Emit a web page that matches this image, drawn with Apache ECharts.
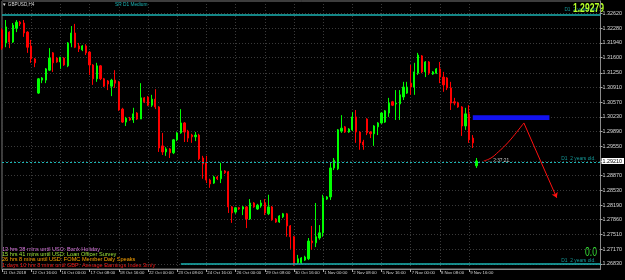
<!DOCTYPE html>
<html><head><meta charset="utf-8">
<script src="https://cdn.jsdelivr.net/npm/echarts@6/dist/echarts.min.js"></script>
<style>html,body{margin:0;padding:0;background:#000}#c{width:625px;height:280px}</style>
</head><body><div id="c"></div>
<script>
// ---- data ----
const symbolTitle = "\u25BC GBPUSD,H4";
const indicatorName = "SR D1 Medium";
const timeLabels = ["11 Oct 2018","12 Oct 16:00","16 Oct 00:00","17 Oct 08:00","18 Oct 16:00","22 Oct 00:00","23 Oct 08:00","24 Oct 16:00","26 Oct 00:00","29 Oct 08:00","30 Oct 16:00","1 Nov 00:00","2 Nov 08:00","5 Nov 16:00","7 Nov 00:00","8 Nov 08:00","9 Nov 16:00"];
const barsPerLabel = 8;
const slotCount = 165;
// [open, close, low, high]
const candles = [
[1.3224,1.3182,1.3178,1.3228],[1.3194,1.3231,1.3184,1.3247],[1.3219,1.3196,1.3182,1.3221],[1.3196,1.3235,1.3194,1.3240],
[1.3228,1.3242,1.3219,1.3247],[1.3242,1.3238,1.3233,1.3245],[1.3240,1.3217,1.3208,1.3247],[1.3219,1.3184,1.3171,1.3221],
[1.3187,1.3157,1.3148,1.3201],[1.3157,1.3148,1.3138,1.3159],[1.3078,1.3111,1.3076,1.3113],[1.3108,1.3113,1.3101,1.3115],
[1.3108,1.3134,1.3101,1.3136],[1.3131,1.3159,1.3129,1.3182],[1.3171,1.3148,1.3127,1.3173],[1.3159,1.3150,1.3148,1.3161],
[1.3150,1.3161,1.3134,1.3161],[1.3159,1.3143,1.3141,1.3161],[1.3141,1.3194,1.3138,1.3196],[1.3194,1.3217,1.3184,1.3233],
[1.3217,1.3184,1.3182,1.3238],[1.3187,1.3180,1.3173,1.3194],[1.3178,1.3187,1.3175,1.3189],[1.3187,1.3171,1.3166,1.3191],
[1.3173,1.3143,1.3120,1.3175],[1.3143,1.3111,1.3097,1.3145],[1.3111,1.3141,1.3104,1.3148],[1.3141,1.3111,1.3108,1.3143],
[1.3111,1.3094,1.3092,1.3113],[1.3106,1.3099,1.3085,1.3108],[1.3094,1.3108,1.3071,1.3111],[1.3108,1.3101,1.3090,1.3131],
[1.3104,1.3039,1.3037,1.3106],[1.3041,1.3011,1.3009,1.3044],[1.3011,1.3020,1.3002,1.3023],[1.3020,1.3016,1.3014,1.3023],
[1.3016,1.3030,1.3009,1.3044],[1.3032,1.3018,1.3016,1.3034],[1.3018,1.3067,1.3018,1.3101],[1.3067,1.3058,1.3055,1.3069],
[1.3069,1.3050,1.3048,1.3071],[1.3050,1.3064,1.3046,1.3074],[1.3064,1.3046,1.3041,1.3087],[1.3046,1.2951,1.2942,1.3048],
[1.2956,1.2942,1.2935,1.2986],[1.2942,1.2949,1.2933,1.2953],[1.2949,1.2940,1.2928,1.2951],[1.2940,1.2970,1.2937,1.2972],
[1.2970,1.2986,1.2967,1.2988],[1.2986,1.3009,1.2984,1.3041],[1.3009,1.2988,1.2965,1.3011],[1.2990,1.2974,1.2965,1.2993],
[1.2981,1.2977,1.2963,1.2984],[1.2977,1.2981,1.2967,1.2988],[1.2981,1.2926,1.2923,1.2984],[1.2928,1.2914,1.2880,1.2933],
[1.2917,1.2877,1.2870,1.2933],[1.2877,1.2868,1.2859,1.2880],[1.2870,1.2884,1.2868,1.2887],[1.2884,1.2880,1.2877,1.2887],
[1.2880,1.2898,1.2870,1.2917],[1.2898,1.2894,1.2891,1.2900],[1.2896,1.2815,1.2801,1.2898],[1.2815,1.2801,1.2778,1.2817],
[1.2803,1.2813,1.2799,1.2815],[1.2813,1.2810,1.2808,1.2815],[1.2810,1.2815,1.2796,1.2817],[1.2815,1.2787,1.2766,1.2817],
[1.2787,1.2824,1.2785,1.2833],[1.2824,1.2815,1.2813,1.2826],[1.2810,1.2819,1.2808,1.2822],[1.2817,1.2824,1.2813,1.2831],
[1.2824,1.2801,1.2796,1.2833],[1.2799,1.2815,1.2796,1.2843],[1.2815,1.2785,1.2783,1.2817],[1.2787,1.2780,1.2778,1.2789],
[1.2780,1.2794,1.2778,1.2796],[1.2792,1.2799,1.2789,1.2801],[1.2799,1.2771,1.2746,1.2801],[1.2771,1.2746,1.2718,1.2773],
[1.2746,1.2683,1.2679,1.2748],[1.2686,1.2695,1.2683,1.2704],[1.2686,1.2697,1.2683,1.2699],[1.2692,1.2699,1.2690,1.2702],
[1.2695,1.2736,1.2692,1.2743],[1.2736,1.2732,1.2716,1.2771],[1.2732,1.2746,1.2722,1.2824],[1.2743,1.2755,1.2739,1.2773],
[1.2755,1.2836,1.2746,1.2843],[1.2833,1.2838,1.2831,1.2840],[1.2838,1.2905,1.2831,1.2917],[1.2905,1.2923,1.2900,1.2928],
[1.2903,1.2993,1.2900,1.2995],[1.2990,1.2997,1.2986,1.3027],[1.3000,1.2988,1.2986,1.3002],[1.2988,1.2995,1.2986,1.2997],
[1.2993,1.3023,1.2990,1.3034],[1.3023,1.2988,1.2963,1.3039],[1.2988,1.2963,1.2947,1.2990],[1.2965,1.2958,1.2947,1.2970],
[1.3018,1.2986,1.2981,1.3020],[1.2988,1.2984,1.2974,1.2990],[1.2984,1.3002,1.2956,1.3004],[1.3000,1.3009,1.2981,1.3011],
[1.3009,1.3032,1.3007,1.3034],[1.3011,1.3037,1.3009,1.3039],[1.3032,1.3055,1.3023,1.3067],[1.3058,1.3050,1.3048,1.3060],
[1.3053,1.3055,1.3016,1.3085],[1.3053,1.3074,1.3016,1.3085],[1.3069,1.3092,1.3062,1.3104],[1.3078,1.3092,1.3076,1.3104],
[1.3101,1.3092,1.3074,1.3143],[1.3092,1.3127,1.3074,1.3148],[1.3124,1.3166,1.3120,1.3171],[1.3164,1.3127,1.3124,1.3166],
[1.3127,1.3150,1.3115,1.3152],[1.3150,1.3124,1.3120,1.3152],[1.3122,1.3127,1.3120,1.3129],[1.3124,1.3134,1.3122,1.3136],
[1.3134,1.3115,1.3101,1.3150],[1.3115,1.3097,1.3081,1.3127],[1.3113,1.3090,1.3085,1.3115],[1.3090,1.3055,1.3039,1.3104],
[1.3058,1.3055,1.3050,1.3067],[1.3055,1.3046,1.3044,1.3058],[1.3046,1.3002,1.2979,1.3048],[1.3002,1.3030,1.2993,1.3044],
[1.3030,1.2970,1.2963,1.3050],[1.2974,1.2963,1.2951,1.2981],[1.2910,1.2921,1.2905,1.2928]
];
const priceTicks = [1.26830,1.27170,1.27510,1.27860,1.28190,1.28530,1.28870,1.29210,1.29550,1.29890,1.30230,1.30570,1.30910,1.31250,1.31600,1.31940,1.32280,1.32620];
const priceMin = 1.26714, priceMax = 1.32909;
const currentPrice = 1.2921;
const srTopLevel = 1.3260;
const srMidLevel = 1.2919;
const srBottomLevel = 1.2683;
const srBottomFromBar = 49;
const srTopValue = "1.29279";
const srBottomValue = "0.0";
const srAgeText = "D1  2 years old.";
const zoneBars = [129, 150];
const zonePrices = [1.3027, 1.3016];
const pathUpBars = [132, 134, 136, 138, 140, 143];
const pathUpPrices = [1.2921, 1.2928, 1.2942, 1.2958, 1.2977, 1.3009];
const pathDownBars = [143, 152];
const pathDownPrices = [1.3009, 1.2836];
const candleTimer = "\u2190 2:37:21";
const eventLines = [
  "13 hrs 38 mins until USD: Bank Holiday",
  "15 hrs 41 mins until USD: Loan Officer Survey",
  "26 hrs 8 mins until USD: FOMC Member Daly Speaks",
  "1 days 10 hrs 8 mins until GBP: Average Earnings Index 3m/y"
];

// ---- chart ----
const eventColors = ['#e27ce8', '#9ee63a', '#ffa500', '#ff1a1a'];
const teal = '#1bb4b4';
const cats = Array.from({length: slotCount}, (_, i) => String(i));
const lastSlot = slotCount - 1;
const isLabelIdx = (i) => i % barsPerLabel === 0 && i / barsPerLabel < timeLabels.length;
const F = '"Liberation Sans", Arial, sans-serif';
const ageLabel = {show: true, position: 'insideEndTop', formatter: srAgeText, color: '#159a9a', fontSize: 4.9, fontFamily: F, distance: [5, 1]};

const chart = echarts.init(document.getElementById('c'), null, {renderer: 'canvas'});

const graphics = [
  {type:'text', x:2, y:5, style:{text:symbolTitle, fill:'#d8d8d8', font:'4.6px ' + F, verticalAlign:'middle'}},
  {type:'text', x:115, y:5, style:{text:indicatorName, fill:teal, font:'4.8px ' + F, verticalAlign:'middle'}},
  {type:'text', x:598, y:10, style:{text:srAgeText, fill:'#159a9a', font:'4.8px ' + F, align:'right', verticalAlign:'middle'}},
  {type:'text', x:604, y:9, scaleY:1.4, style:{text:srTopValue, fill:'#b4ff28', font:'bold 8.6px ' + F, align:'right', verticalAlign:'middle'}},
  {type:'text', x:597, y:253, scaleY:1.4, style:{text:srBottomValue, fill:'#36e036', font:'8.6px ' + F, align:'right', verticalAlign:'middle'}},
  {type:'text', x:487, y:160.5, style:{text:candleTimer, fill:'#c8c8c8', font:'4.8px ' + F, verticalAlign:'middle'}}
];
eventLines.forEach((t, k) => {
  graphics.push({type:'text', x:2, y:249 + k * 5.4, style:{text:t, fill:eventColors[k], font:'5.6px ' + F, verticalAlign:'middle'}});
});

chart.setOption({
  backgroundColor: '#000',
  animation: false,
  grid: {left: 0, right: 22, top: 1, bottom: 11, show: true, borderColor: '#7a7a7a', borderWidth: 1},
  xAxis: {
    type: 'category', data: cats, boundaryGap: false,
    axisLine: {show: true, lineStyle: {color: '#8a8a8a'}},
    axisTick: {show: true, interval: (i) => isLabelIdx(i), length: 3, lineStyle: {color: '#aaa'}},
    axisLabel: {interval: (i) => isLabelIdx(i), formatter: (v) => timeLabels[Number(v) / barsPerLabel],
      align: 'left', fontSize: 4.3, color: '#d8d8d8', margin: 2, fontFamily: F, padding: [0,0,0,1]},
    splitLine: {show: true, interval: (i) => isLabelIdx(i), lineStyle: {color: '#3a3a3a', type: [1, 2]}}
  },
  yAxis: {
    type: 'value', position: 'right', min: priceMin, max: priceMax,
    axisLine: {show: true, lineStyle: {color: '#8a8a8a'}},
    axisTick: {show: true, customValues: priceTicks, length: 2, lineStyle: {color: '#aaa'}},
    axisLabel: {customValues: priceTicks, formatter: (v) => v.toFixed(5), fontSize: 5.4, color: '#d8d8d8', margin: 2, fontFamily: F},
    splitLine: {show: true, lineStyle: {color: '#3a3a3a', type: [1, 2]}}
  },
  graphic: graphics,
  series: [
    {
      type: 'candlestick', data: candles, barWidth: 1.7, z: 3,
      itemStyle: {color: '#00ff00', color0: '#ff0000', borderColor: '#00ff00', borderColor0: '#ff0000', borderWidth: 1}
    },
    {
      type: 'line', data: pathUpBars.map((b, k) => [b, pathUpPrices[k]]), smooth: 0.4, symbol: 'none', z: 4,
      lineStyle: {color: '#ff1010', width: 1},
      markArea: {silent: true, itemStyle: {color: '#1212f0', opacity: 1},
        data: [[{coord: [zoneBars[0], zonePrices[0]]}, {coord: [zoneBars[1], zonePrices[1]]}]]},
      markLine: {silent: true, symbol: ['none', 'none'], animation: false, z: 5,
        data: [
          [{coord: [0, srTopLevel], lineStyle: {color: teal, width: 1.5, type: 'solid'}, label: {show: false}},
           {coord: [lastSlot, srTopLevel]}],
          [{coord: [0, srMidLevel], lineStyle: {color: teal, width: 1, type: [2, 2]}, label: ageLabel},
           {coord: [lastSlot, srMidLevel]}],
          [{coord: [srBottomFromBar, srBottomLevel], lineStyle: {color: teal, width: 1.5, type: 'solid'}, label: ageLabel},
           {coord: [lastSlot, srBottomLevel]}],
          [{coord: [pathDownBars[0], pathDownPrices[0]], symbol: 'none', lineStyle: {color: '#ff1010', width: 1, type: 'solid'}, label: {show: false}},
           {coord: [pathDownBars[1], pathDownPrices[1]], symbol: 'arrow', symbolSize: 5}]
        ]}
    },
    {
      type: 'line', data: [], z: 10,
      markLine: {silent: true, symbol: ['none', 'none'], animation: false, z: 10,
        data: [
          [{coord: [0, currentPrice], lineStyle: {color: 'rgba(0,0,0,0)', width: 0},
            label: {show: true, position: 'end', distance: 1, formatter: currentPrice.toFixed(5), color: '#000', backgroundColor: '#ffffff', fontSize: 5.4, fontFamily: F, padding: [1, 2, 0, 1], opacity: 1}},
           {coord: [lastSlot, currentPrice]}]
        ]}
    }
  ]
});
</script></body></html>
